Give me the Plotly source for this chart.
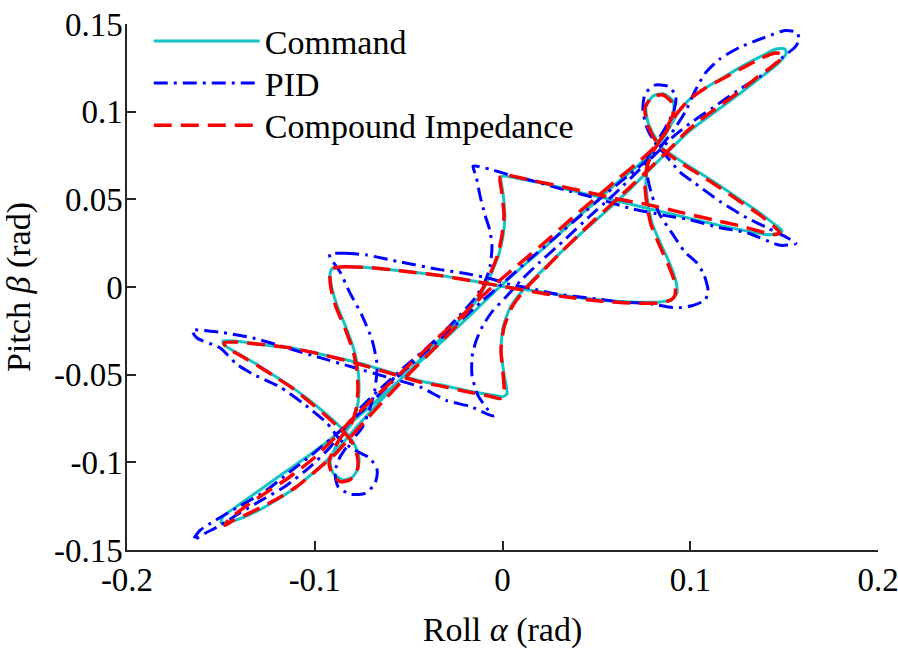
import plotly.graph_objects as go

# ---------------- Command ----------------
cmd_roll = [-0.0908, -0.0839, -0.0706, -0.0546, -0.0333, -0.0173, -0.0003, 0.0146, 0.0306, 0.0519, 0.0679, 0.0839, 0.0903, 0.0929,
            0.0924, 0.0887, 0.0839, 0.0796, 0.0775, 0.0764, 0.0775, 0.0807, 0.0839,
            0.0881, 0.0913, 0.0908, 0.0860, 0.0802, 0.0764, 0.0775, 0.0812, 0.0855,
            0.0945, 0.1052, 0.1158, 0.1265, 0.1372, 0.1446, 0.1489,
            0.1467, 0.1409, 0.1265, 0.1121, 0.0945, 0.0770, 0.0599, 0.0413, 0.0269, 0.0120, 0.0013, -0.0008,
            0.0003, 0.0013, 0.0003, -0.0019, -0.0051, -0.0088, -0.0130, -0.0184,
            -0.0280, -0.0413, -0.0546, -0.0663, -0.0759, -0.0839, -0.0919, -0.1009, -0.1116, -0.1238, -0.1361, -0.1451, -0.1499,
            -0.1489, -0.1398, -0.1281, -0.1148, -0.1015, -0.0892, -0.0759, -0.0599, -0.0439, -0.0280, -0.0146, -0.0029,
            0.0093, 0.0226, 0.0360, 0.0493, 0.0615, 0.0722, 0.0796, 0.0860, 0.0929, 0.0999, 0.1079, 0.1185, 0.1292, 0.1382, 0.1457, 0.1505,
            0.1510, 0.1467, 0.1382, 0.1275, 0.1169, 0.1063, 0.0983, 0.0908, 0.0796, 0.0671, 0.0546, 0.0423, 0.0306, 0.0200, 0.0104, 0.0040,
            0.0003, -0.0008, 0.0008, 0.0024,
            0.0003, -0.0067, -0.0189, -0.0333, -0.0439, -0.0599, -0.0775, -0.0956, -0.1132, -0.1308, -0.1425, -0.1489,
            -0.1483, -0.1398, -0.1308, -0.1212, -0.1132, -0.1041, -0.0956, -0.0881, -0.0823,
            -0.0786, -0.0764, -0.0770, -0.0802, -0.0855, -0.0903, -0.0919, -0.0892, -0.0850,
            -0.0802, -0.0775, -0.0764, -0.0770, -0.0791, -0.0834, -0.0881, -0.0908, -0.0919, -0.0908]
cmd_pitch = [0.0104, 0.0115, 0.0110, 0.0093, 0.0065, 0.0037, 0.0004, -0.0018, -0.0046, -0.0074, -0.0085, -0.0085, -0.0068, -0.0035,
             0.0032, 0.0143, 0.0255, 0.0366, 0.0477, 0.0589, 0.0700, 0.0783, 0.0839,
             0.0923, 0.0995, 0.1062, 0.1101, 0.1090, 0.1028, 0.0939, 0.0856, 0.0789,
             0.0722, 0.0650, 0.0577, 0.0499, 0.0421, 0.0360, 0.0321,
             0.0305, 0.0299, 0.0327, 0.0360, 0.0405, 0.0449, 0.0494, 0.0538, 0.0577, 0.0611, 0.0633, 0.0628,
             0.0533, 0.0410, 0.0293, 0.0188, 0.0099, 0.0015, -0.0063, -0.0141,
             -0.0241, -0.0386, -0.0530, -0.0664, -0.0776, -0.0876, -0.0971, -0.1060, -0.1154, -0.1238, -0.1305, -0.1338, -0.1343,
             -0.1310, -0.1238, -0.1149, -0.1048, -0.0948, -0.0848, -0.0731, -0.0581, -0.0425, -0.0269, -0.0135, -0.0013,
             0.0104, 0.0227, 0.0360, 0.0483, 0.0600, 0.0694, 0.0772, 0.0856, 0.0984, 0.1073, 0.1134, 0.1201, 0.1268, 0.1318, 0.1357, 0.1357,
             0.1329, 0.1274, 0.1201, 0.1112, 0.1028, 0.0945, 0.0878, 0.0800, 0.0683, 0.0550, 0.0427, 0.0310, 0.0193, 0.0082, -0.0024, -0.0119,
             -0.0230, -0.0358, -0.0497, -0.0608,
             -0.0625, -0.0614, -0.0592, -0.0558, -0.0536, -0.0486, -0.0430, -0.0386, -0.0347, -0.0325, -0.0308, -0.0308,
             -0.0330, -0.0386, -0.0442, -0.0508, -0.0564, -0.0636, -0.0709, -0.0781, -0.0842,
             -0.0904, -0.0976, -0.1037, -0.1087, -0.1099, -0.1060, -0.0998, -0.0920, -0.0842,
             -0.0776, -0.0692, -0.0581, -0.0469, -0.0358, -0.0230, -0.0107, -0.0007, 0.0071, 0.0104]

# ---------------- PID ----------------
pid_roll = [-0.0919, -0.0839, -0.0722, -0.0546, -0.0333, -0.0189, -0.0067, 0.0040, 0.0146, 0.0290, 0.0466, 0.0626, 0.0786, 0.0919, 0.1009, 0.1079, 0.1095,
            0.1073, 0.1031, 0.0972, 0.0908, 0.0839, 0.0796, 0.0770, 0.0775,
            0.0812, 0.0866, 0.0913, 0.0924, 0.0881, 0.0812, 0.0759, 0.0748, 0.0770, 0.0812, 0.0866,
            0.0945, 0.1015, 0.1158, 0.1302, 0.1409, 0.1515, 0.1563,
            0.1478, 0.1302, 0.1158, 0.0999, 0.0855, 0.0679, 0.0503, 0.0306, 0.0162, 0.0056, -0.0067, -0.0157,
            -0.0141, -0.0120, -0.0093, -0.0067, -0.0056, -0.0067, -0.0093, -0.0146,
            -0.0253, -0.0386, -0.0519, -0.0652, -0.0759, -0.0839, -0.0919, -0.1025, -0.1159, -0.1292, -0.1398, -0.1505, -0.1585, -0.1648,
            -0.1611, -0.1531, -0.1398, -0.1265, -0.1132, -0.0999, -0.0866, -0.0732, -0.0599, -0.0439, -0.0280, -0.0120, 0.0013,
            0.0146, 0.0280, 0.0413, 0.0546, 0.0679, 0.0775, 0.0850, 0.0919, 0.0977, 0.1025, 0.1079, 0.1158, 0.1265, 0.1398, 0.1505, 0.1569, 0.1579,
            0.1558, 0.1494, 0.1372, 0.1265, 0.1121, 0.0999, 0.0908, 0.0839, 0.0732, 0.0599, 0.0466, 0.0333, 0.0200, 0.0093, 0.0013,
            -0.0051, -0.0104, -0.0141, -0.0162, -0.0162, -0.0130, -0.0083, -0.0051,
            -0.0173, -0.0296, -0.0439, -0.0615, -0.0796, -0.0972, -0.1148, -0.1329, -0.1505, -0.1654,
            -0.1627, -0.1505, -0.1414, -0.1329, -0.1185, -0.1062, -0.0935, -0.0866,
            -0.0786, -0.0706, -0.0668, -0.0679, -0.0732, -0.0812, -0.0876, -0.0892, -0.0866, -0.0812,
            -0.0748, -0.0706, -0.0679, -0.0668, -0.0695, -0.0748, -0.0812, -0.0866, -0.0919, -0.0919]
pid_pitch = [0.0188, 0.0193, 0.0182, 0.0143, 0.0099, 0.0076, 0.0048, 0.0015, -0.0007, -0.0041, -0.0063, -0.0085, -0.0096, -0.0119, -0.0107, -0.0074, -0.0024,
             0.0071, 0.0143, 0.0199, 0.0299, 0.0410, 0.0522, 0.0644, 0.0739,
             0.0811, 0.0906, 0.1006, 0.1090, 0.1145, 0.1151, 0.1101, 0.1006, 0.0906, 0.0822, 0.0756,
             0.0655, 0.0600, 0.0488, 0.0394, 0.0338, 0.0282, 0.0248,
             0.0238, 0.0310, 0.0338, 0.0383, 0.0410, 0.0449, 0.0505, 0.0561, 0.0605, 0.0633, 0.0672, 0.0689,
             0.0633, 0.0522, 0.0410, 0.0321, 0.0227, 0.0115, 0.0032, -0.0063,
             -0.0191, -0.0330, -0.0453, -0.0581, -0.0692, -0.0803, -0.0915, -0.1026, -0.1138, -0.1221, -0.1288, -0.1360, -0.1405, -0.1444,
             -0.1388, -0.1332, -0.1249, -0.1165, -0.1054, -0.0943, -0.0820, -0.0692, -0.0553, -0.0397, -0.0247, -0.0091, 0.0032,
             0.0160, 0.0282, 0.0405, 0.0527, 0.0644, 0.0728, 0.0811, 0.0906, 0.1006, 0.1117, 0.1218, 0.1301, 0.1368, 0.1424, 0.1463, 0.1452, 0.1407,
             0.1368, 0.1312, 0.1201, 0.1129, 0.1023, 0.0934, 0.0856, 0.0783, 0.0672, 0.0533, 0.0405, 0.0271, 0.0143, 0.0032, -0.0063,
             -0.0135, -0.0219, -0.0308, -0.0397, -0.0508, -0.0620, -0.0692, -0.0737,
             -0.0681, -0.0648, -0.0570, -0.0514, -0.0458, -0.0403, -0.0347, -0.0291, -0.0258, -0.0247,
             -0.0291, -0.0347, -0.0442, -0.0497, -0.0570, -0.0664, -0.0776, -0.0870,
             -0.0931, -0.0976, -0.1043, -0.1121, -0.1177, -0.1182, -0.1138, -0.1054, -0.0971, -0.0887,
             -0.0803, -0.0692, -0.0581, -0.0442, -0.0302, -0.0163, -0.0035, 0.0087, 0.0171, 0.0188]

# ---------------- Compound Impedance ----------------
ci_roll = [-0.0908, -0.0839, -0.0706, -0.0546, -0.0333, -0.0173, -0.0003, 0.0146, 0.0306, 0.0519, 0.0679, 0.0839, 0.0897, 0.0919,
           0.0919, 0.0881, 0.0834, 0.0791, 0.0770, 0.0759, 0.0770, 0.0802, 0.0834,
           0.0876, 0.0908, 0.0903, 0.0855, 0.0796, 0.0759, 0.0770, 0.0807, 0.0855,
           0.0945, 0.1052, 0.1158, 0.1265, 0.1372, 0.1441, 0.1478,
           0.1451, 0.1398, 0.1265, 0.1121, 0.0945, 0.0770, 0.0599, 0.0413, 0.0269, 0.0120, 0.0013, -0.0013,
           -0.0003, 0.0008, -0.0003, -0.0024, -0.0056, -0.0093, -0.0136, -0.0189,
           -0.0253, -0.0386, -0.0519, -0.0637, -0.0732, -0.0812, -0.0892, -0.0988, -0.1095, -0.1222, -0.1345, -0.1435, -0.1478,
           -0.1462, -0.1372, -0.1265, -0.1132, -0.0999, -0.0903, -0.0786, -0.0626, -0.0466, -0.0306, -0.0173, -0.0051,
           0.0083, 0.0226, 0.0360, 0.0493, 0.0615, 0.0722, 0.0796, 0.0860, 0.0929, 0.0999, 0.1079, 0.1185, 0.1292, 0.1382, 0.1451, 0.1489,
           0.1483, 0.1435, 0.1356, 0.1265, 0.1158, 0.1052, 0.0972, 0.0903, 0.0796, 0.0671, 0.0546, 0.0429, 0.0317, 0.0216, 0.0120, 0.0051,
           0.0008, -0.0008, 0.0003, 0.0008,
           -0.0013, -0.0077, -0.0189, -0.0333, -0.0439, -0.0599, -0.0775, -0.0956, -0.1132, -0.1308, -0.1425, -0.1483,
           -0.1473, -0.1387, -0.1297, -0.1201, -0.1121, -0.1036, -0.0956, -0.0881, -0.0823,
           -0.0786, -0.0770, -0.0775, -0.0812, -0.0866, -0.0908, -0.0924, -0.0897, -0.0855,
           -0.0807, -0.0780, -0.0770, -0.0775, -0.0796, -0.0839, -0.0887, -0.0913, -0.0919, -0.0908]
ci_pitch = [0.0104, 0.0115, 0.0110, 0.0093, 0.0065, 0.0037, 0.0004, -0.0024, -0.0052, -0.0080, -0.0091, -0.0091, -0.0074, -0.0046,
            0.0021, 0.0132, 0.0243, 0.0355, 0.0466, 0.0577, 0.0689, 0.0772, 0.0828,
            0.0911, 0.0984, 0.1051, 0.1095, 0.1084, 0.1023, 0.0934, 0.0850, 0.0783,
            0.0711, 0.0639, 0.0566, 0.0488, 0.0410, 0.0349, 0.0310,
            0.0299, 0.0310, 0.0349, 0.0383, 0.0427, 0.0471, 0.0505, 0.0550, 0.0583, 0.0616, 0.0639, 0.0628,
            0.0533, 0.0410, 0.0293, 0.0188, 0.0099, 0.0015, -0.0063, -0.0141,
            -0.0230, -0.0375, -0.0519, -0.0653, -0.0764, -0.0859, -0.0954, -0.1043, -0.1138, -0.1221, -0.1288, -0.1332, -0.1360,
            -0.1332, -0.1254, -0.1177, -0.1082, -0.0971, -0.0870, -0.0737, -0.0575, -0.0414, -0.0252, -0.0119, 0.0004,
            0.0126, 0.0255, 0.0383, 0.0505, 0.0616, 0.0711, 0.0783, 0.0867, 0.0990, 0.1073, 0.1134, 0.1195, 0.1257, 0.1307, 0.1335, 0.1329,
            0.1301, 0.1257, 0.1195, 0.1117, 0.1034, 0.0951, 0.0878, 0.0800, 0.0689, 0.0561, 0.0438, 0.0321, 0.0204, 0.0093, -0.0013, -0.0113,
            -0.0230, -0.0358, -0.0497, -0.0608,
            -0.0636, -0.0620, -0.0597, -0.0564, -0.0542, -0.0492, -0.0436, -0.0386, -0.0347, -0.0325, -0.0313, -0.0319,
            -0.0341, -0.0397, -0.0453, -0.0519, -0.0575, -0.0648, -0.0720, -0.0792, -0.0853,
            -0.0915, -0.0987, -0.1048, -0.1099, -0.1110, -0.1065, -0.0998, -0.0920, -0.0848,
            -0.0781, -0.0698, -0.0586, -0.0475, -0.0364, -0.0236, -0.0113, -0.0013, 0.0065, 0.0104]

x_ticks = [-0.2, -0.1, 0, 0.1, 0.2]
x_tick_text = ["-0.2", "-0.1", "0", "0.1", "0.2"]
y_ticks = [-0.15, -0.1, -0.05, 0, 0.05, 0.1, 0.15]
y_tick_text = ["-0.15", "-0.1", "-0.05", "0", "0.05", "0.1", "0.15"]

FONT = "Liberation Serif"
FS = 34
TFS = 33
AX = "#262626"

fig = go.Figure()
fig.add_trace(go.Scatter(x=cmd_roll, y=cmd_pitch, mode="lines", name="Command", legend="legend",
                         line=dict(color="rgb(20,196,196)", width=3, shape="spline", smoothing=0.6)))
fig.add_trace(go.Scatter(x=pid_roll, y=pid_pitch, mode="lines", name="PID", legend="legend2",
                         line=dict(color="#0000FF", width=3, dash="14px,6px,3px,6px", shape="spline", smoothing=0.6)))
fig.add_trace(go.Scatter(x=ci_roll, y=ci_pitch, mode="lines", name="Compound Impedance", legend="legend3",
                         line=dict(color="#FF0000", width=3.5, dash="18px,9px", shape="spline", smoothing=0.6)))

axis_common = dict(ticks="inside", ticklen=9, tickwidth=1.5, tickcolor=AX, showline=True,
                   linecolor=AX, linewidth=1.5, showgrid=False, zeroline=False, mirror=False,
                   automargin=False, ticklabeloverflow="allow",
                   tickfont=dict(family=FONT, size=TFS, color="black"))

def leg(ytop):
    return dict(x=0.029, y=ytop, xanchor="left", yanchor="top", bgcolor="rgba(0,0,0,0)",
                borderwidth=0, itemwidth=106, tracegroupgap=0,
                font=dict(family=FONT, size=FS, color="black"))

fig.update_layout(
    width=898, height=649,
    margin=dict(l=127, r=20, t=13, b=99),
    paper_bgcolor="white", plot_bgcolor="white",
    font=dict(family=FONT, size=FS, color="black"),
    showlegend=True,
    legend=leg(1.022), legend2=leg(0.942), legend3=leg(0.862),
    xaxis=dict(range=[-0.2, 0.2], tickvals=x_ticks, ticktext=x_tick_text,
               title=dict(text="Roll <i>α</i> (rad)", font=dict(family=FONT, size=FS), standoff=22),
               **axis_common),
    yaxis=dict(range=[-0.15, 0.15], tickvals=y_ticks, ticktext=y_tick_text,
               ticklabelstandoff=-4,
               title=dict(text="Pitch <i>β</i> (rad)", font=dict(family=FONT, size=FS), standoff=14),
               **axis_common),
)

fig.write_html("out.html", config={"displayModeBar": False},
               post_script="document.body.style.margin='0';document.body.style.padding='0';")
